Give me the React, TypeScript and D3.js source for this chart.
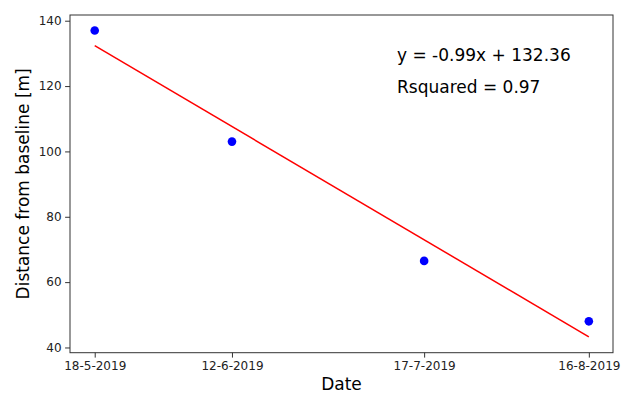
import React, { useEffect, useRef } from "react";
import * as d3 from "d3";

// days since 18-5-2019
const dayOffsets = [0, 25, 60, 90];
const dateLabels = ["18-5-2019", "12-6-2019", "17-7-2019", "16-8-2019"];
const distances = [137, 103, 66.5, 48];
const fitSlope = -0.99;
const fitIntercept = 132.36;
const fitEnds = [0, 90];
const fitY = [132.36, 43.26];
const yTicks = [40, 60, 80, 100, 120, 140];

const W = 624;
const H = 393;
const left = 70;
const right = 613;
const top = 15;
const bottom = 352.7;
const FONT = "DejaVu Sans, sans-serif";

const App = () => {
  const ref = useRef<SVGSVGElement>(null);

  useEffect(() => {
    const svg = d3.select(ref.current);
    svg.selectAll("*").remove();

    const x = d3.scaleLinear().domain([-4.5, 94.4]).range([left, right]);
    const y = d3.scaleLinear().domain([38.4, 141.75]).range([bottom, top]);

    svg.append("rect").attr("width", W).attr("height", H).attr("fill", "#fff");

    // fit line
    const line = d3
      .line<number>()
      .x((d) => x(d))
      .y((d, i) => y(fitY[i]));
    svg
      .append("path")
      .attr("d", line(fitEnds))
      .attr("fill", "none")
      .attr("stroke", "#ff0000")
      .attr("stroke-width", 1.5);

    // points
    svg
      .selectAll("circle")
      .data(distances)
      .enter()
      .append("circle")
      .attr("cx", (d, i) => x(dayOffsets[i]))
      .attr("cy", (d) => y(d))
      .attr("r", 4.3)
      .attr("fill", "#0000ff");

    // frame
    svg
      .append("rect")
      .attr("x", left)
      .attr("y", top)
      .attr("width", right - left)
      .attr("height", bottom - top)
      .attr("fill", "none")
      .attr("stroke", "#333")
      .attr("stroke-width", 1);

    // x axis
    const xAxis = d3
      .axisBottom(x)
      .tickValues(dayOffsets)
      .tickFormat((d, i) => dateLabels[i])
      .tickSize(4.9)
      .tickPadding(3.5);
    const gx = svg
      .append("g")
      .attr("transform", `translate(0,${bottom})`)
      .call(xAxis);
    gx.select(".domain").remove();
    gx.selectAll("line").attr("stroke", "#333");
    gx.selectAll("text")
      .attr("fill", "#222")
      .style("font-family", FONT)
      .style("font-size", "12px");

    // y axis
    const yAxis = d3.axisLeft(y).tickValues(yTicks).tickSize(4.9).tickPadding(3.5);
    const gy = svg.append("g").attr("transform", `translate(${left},0)`).call(yAxis);
    gy.select(".domain").remove();
    gy.selectAll("line").attr("stroke", "#333");
    gy.selectAll("text")
      .attr("fill", "#222")
      .style("font-family", FONT)
      .style("font-size", "12px");

    // axis labels
    svg
      .append("text")
      .attr("x", (left + right) / 2)
      .attr("y", 390)
      .attr("text-anchor", "middle")
      .style("font-family", FONT)
      .style("font-size", "17px")
      .attr("fill", "#000")
      .text("Date");

    svg
      .append("text")
      .attr("transform", `translate(29,${(top + bottom) / 2}) rotate(-90)`)
      .attr("text-anchor", "middle")
      .style("font-family", FONT)
      .style("font-size", "17px")
      .attr("fill", "#000")
      .text("Distance from baseline [m]");

    // annotation
    const ann = svg
      .append("g")
      .style("font-family", FONT)
      .style("font-size", "17px")
      .attr("fill", "#000");
    ann
      .append("text")
      .attr("x", 397)
      .attr("y", 61)
      .text(`y = ${fitSlope.toFixed(2)}x + ${fitIntercept.toFixed(2)}`);
    ann.append("text").attr("x", 397).attr("y", 93).text("Rsquared = 0.97");
  }, []);

  return (
    <svg
      ref={ref}
      width={W}
      height={H}
      style={{ position: "absolute", left: 0, top: 0 }}
    />
  );
};

export default App;
